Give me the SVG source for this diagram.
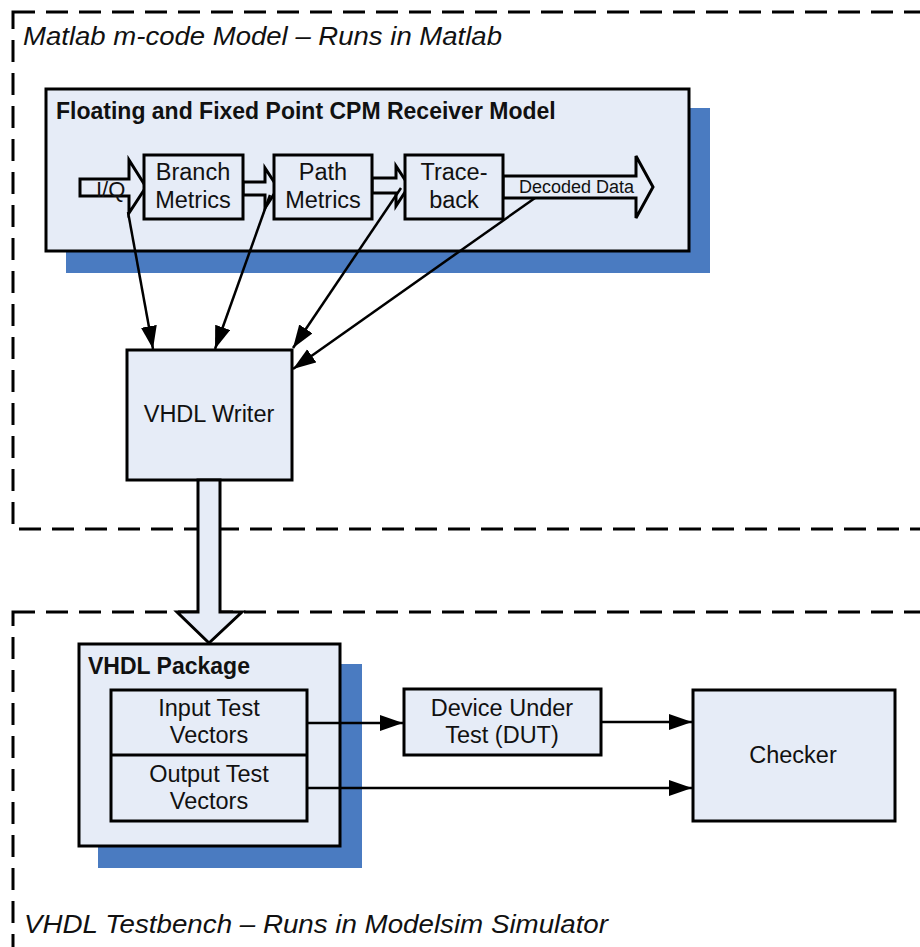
<svg xmlns="http://www.w3.org/2000/svg" width="920" height="947" viewBox="0 0 920 947">
  <style>
    .zone { fill: none; stroke: #000; stroke-width: 3; stroke-dasharray: 22 11; }
    .box { fill: #e6ecf7; stroke: #000; stroke-width: 3; }
    .shadow { fill: #4a7bc1; }
    .barrow { fill: #e6ecf7; stroke: #000; stroke-width: 3; stroke-linejoin: miter; }
    .wire { fill: none; stroke: #000; stroke-width: 2.5; marker-end: url(#head); }
    text { font-family: "Liberation Sans", Arial, sans-serif; fill: #111; }
    .lbl { font-size: 23.5px; text-anchor: middle; }
    .title { font-size: 23px; font-weight: bold; }
    .zonelbl { font-size: 26px; font-style: italic; }
    .small { font-size: 18px; }
  </style>
  <defs>
    <marker id="head" markerUnits="userSpaceOnUse" markerWidth="24" markerHeight="17" refX="23" refY="8" orient="auto">
      <path d="M0,0 L23,8 L0,16 z" fill="#000"/>
    </marker>
  </defs>

  <!-- dashed zones -->
  <g id="zone-matlab">
    <rect class="zone" x="13" y="12" width="960" height="517"/>
    <text class="zonelbl" x="23" y="45" textLength="479" lengthAdjust="spacingAndGlyphs">Matlab m-code Model – Runs in Matlab</text>
  </g>
  <g id="zone-testbench">
    <rect class="zone" x="13" y="612" width="960" height="400"/>
    <text class="zonelbl" x="24" y="933" textLength="584" lengthAdjust="spacingAndGlyphs">VHDL Testbench – Runs in Modelsim Simulator</text>
  </g>

  <!-- receiver model container -->
  <g id="receiver-model">
    <rect class="shadow" x="66" y="108" width="644" height="165"/>
    <rect class="box" x="46" y="89" width="643" height="162"/>
    <text class="title" x="56" y="119">Floating and Fixed Point CPM Receiver Model</text>
  </g>

  <!-- block arrows along the receiver chain -->
  <g id="iq-arrow">
    <polygon class="barrow" points="80,179 129,179 129,160 146,187 129,213 129,196 80,196"/>
    <text x="96" y="197" font-size="22">I/Q</text>
  </g>
  <g id="bm-pm-arrow">
    <polygon class="barrow" points="243,182 265,182 265,168 278,188 265,208 265,195 243,195"/>
  </g>
  <g id="pm-tb-arrow">
    <polygon class="barrow" points="372,178 396,178 396,166 409,186 396,206 396,193 372,193"/>
  </g>
  <g id="decoded-arrow">
    <polygon class="barrow" points="503,176 636,176 636,156 653,187 636,218 636,198 503,198"/>
    <text class="small" x="519" y="193">Decoded Data</text>
  </g>

  <g id="branch-metrics">
    <rect class="box" x="144" y="155" width="99" height="64"/>
    <text class="lbl" x="193" y="180">Branch</text>
    <text class="lbl" x="193" y="208">Metrics</text>
  </g>
  <g id="path-metrics">
    <rect class="box" x="274" y="155" width="98" height="64"/>
    <text class="lbl" x="323" y="180">Path</text>
    <text class="lbl" x="323" y="208">Metrics</text>
  </g>
  <g id="traceback">
    <rect class="box" x="405" y="155" width="98" height="64"/>
    <text class="lbl" x="454" y="180">Trace-</text>
    <text class="lbl" x="454" y="208">back</text>
  </g>

  <g id="vhdl-writer">
    <rect class="box" x="127" y="350" width="165" height="130"/>
    <text class="lbl" x="209" y="422">VHDL Writer</text>
  </g>

  <!-- wide arrow from writer to package -->
  <g id="writer-package-arrow">
    <polygon class="barrow" points="198,480 220,480 220,612 242,612 209,643 177,612 198,612"/>
  </g>

  <g id="vhdl-package">
    <rect class="shadow" x="98" y="664" width="264" height="204"/>
    <rect class="box" x="79" y="644" width="261" height="202"/>
    <text class="title" x="88" y="674">VHDL Package</text>
    <rect class="box" x="111" y="690" width="196" height="131"/>
    <line x1="111" y1="755" x2="307" y2="755" stroke="#000" stroke-width="3"/>
    <text class="lbl" x="209" y="716">Input Test</text>
    <text class="lbl" x="209" y="743">Vectors</text>
    <text class="lbl" x="209" y="782">Output Test</text>
    <text class="lbl" x="209" y="809">Vectors</text>
  </g>

  <g id="dut">
    <rect class="box" x="404" y="689" width="197" height="66"/>
    <text class="lbl" x="502" y="716">Device Under</text>
    <text class="lbl" x="502" y="743">Test (DUT)</text>
  </g>

  <g id="checker">
    <rect class="box" x="693" y="690" width="202" height="131"/>
    <text class="lbl" x="793" y="763">Checker</text>
  </g>

  <!-- connectors -->
  <g id="connectors">
    <line class="wire" x1="128" y1="212" x2="153" y2="349"/>
    <line class="wire" x1="270" y1="195" x2="215" y2="349"/>
    <line class="wire" x1="401" y1="188" x2="293" y2="348"/>
    <line class="wire" x1="535" y1="198" x2="293" y2="369"/>
    <line class="wire" x1="307" y1="723" x2="403" y2="723"/>
    <line class="wire" x1="601" y1="722" x2="692" y2="722"/>
    <line class="wire" x1="307" y1="788" x2="692" y2="788"/>
  </g>
</svg>
